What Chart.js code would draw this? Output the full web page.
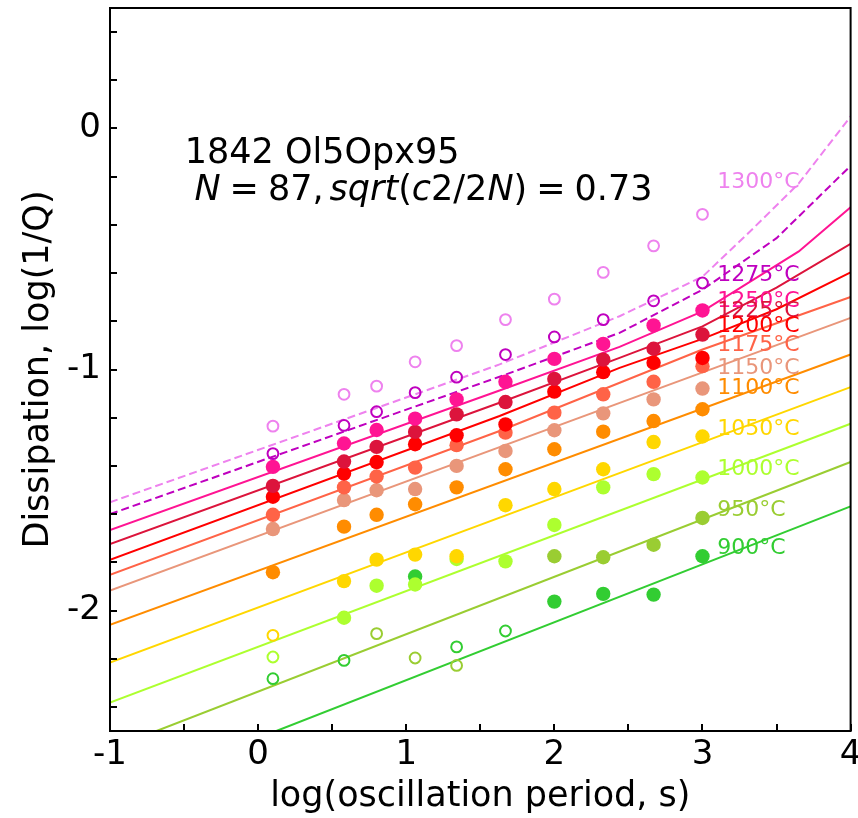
<!DOCTYPE html>
<html>
<head>
<meta charset="utf-8">
<script src="https://cdn.jsdelivr.net/npm/chart.js@4.4.1/dist/chart.umd.min.js"></script>
<style>
  html, body { margin: 0; padding: 0; background: #fff; }
  #wrap { width: 858px; height: 818px; }
</style>
</head>
<body>
<div id="wrap"><canvas id="qChart" width="858" height="818"></canvas></div>
<script>
// log10 of oscillation period (s) for the measured points
const periods = [0.10, 0.58, 0.80, 1.06, 1.34, 1.67, 2.00, 2.33, 2.67, 3.00];
const temps = [1300, 1275, 1250, 1225, 1200, 1175, 1150, 1100, 1050, 1000, 950, 900];
const colors = ['#ee82ee', '#bf00bf', '#ff1493', '#dc143c', '#ff0000', '#ff6347',
                '#e9967a', '#ff8c00', '#ffd700', '#adff2f', '#9acd32', '#32cd32'];

// tick labels
const xTickLabels = [-1, 0, 1, 2, 3, 4];
const yTickLabels = [0, -1, -2];

// measured log(1/Q), one value per period (null = no point)
const obs1300 = [-1.235, -1.103, -1.069, -0.968, -0.901, -0.793, -0.708, -0.597, -0.487, -0.356];
const obs1275 = [-1.349, -1.232, -1.175, -1.096, -1.032, -0.938, -0.865, -0.793, -0.715, -0.641];
const obs1250 = [-1.404, -1.307, -1.251, -1.204, -1.124, -1.051, -0.956, -0.894, -0.817, -0.755];
const obs1225 = [-1.483, -1.382, -1.321, -1.259, -1.186, -1.135, -1.039, -0.959, -0.914, -0.855];
const obs1200 = [-1.528, -1.432, -1.384, -1.310, -1.273, -1.228, -1.092, -1.011, -0.972, -0.952];
const obs1175 = [-1.603, -1.489, -1.444, -1.407, -1.314, -1.262, -1.179, -1.103, -1.051, -0.986];
const obs1150 = [-1.662, -1.542, -1.501, -1.496, -1.400, -1.338, -1.252, -1.182, -1.124, -1.079];
const obs1100 = [-1.841, -1.652, -1.603, -1.559, -1.489, -1.414, -1.331, -1.258, -1.214, -1.165];
const obs1050 = [-2.103, -1.878, -1.789, -1.768, -1.775, -1.563, -1.496, -1.414, -1.301, -1.278];
const obs1000 = [-2.193, -2.030, -1.897, -1.892, -1.786, -1.796, -1.645, -1.489, -1.434, -1.448];
const obs950  = [null, null, -2.096, -2.197, -2.228, null, -1.775, -1.779, -1.727, -1.616];
const obs900  = [-2.283, -2.207, null, -1.859, -2.151, -2.085, -1.963, -1.931, -1.934, -1.775];

// 1 = open (hollow) marker
const hollow1300 = [1, 1, 1, 1, 1, 1, 1, 1, 1, 1];
const hollow1275 = [1, 1, 1, 1, 1, 1, 1, 1, 1, 1];
const hollow1050 = [1, 0, 0, 0, 0, 0, 0, 0, 0, 0];
const hollow1000 = [1, 0, 0, 0, 0, 0, 0, 0, 0, 0];
const hollow950  = [0, 0, 1, 1, 1, 0, 0, 0, 0, 0];
const hollow900  = [1, 1, 0, 0, 1, 1, 0, 0, 0, 0];
const noHollow   = [0, 0, 0, 0, 0, 0, 0, 0, 0, 0];

// model curves [log period, log(1/Q)]
const fit1300 = [[-1, -1.551], [1.63, -0.979], [2.44, -0.779], [3.0, -0.615], [3.3, -0.44], [3.65, -0.228], [4, 0.05]];
const fit1275 = [[-1, -1.600], [1.63, -1.030], [2.44, -0.848], [3.0, -0.669], [3.5, -0.455], [4, -0.155]];
const fit1250 = [[-1, -1.666], [1.63, -1.087], [2.44, -0.906], [3.0, -0.759], [3.65, -0.510], [4, -0.327]];
const fit1225 = [[-1, -1.724], [1.63, -1.138], [2.44, -0.952], [3.0, -0.821], [3.5, -0.66], [4, -0.479]];
const fit1200 = [[-1, -1.790], [1.63, -1.193], [2.44, -0.993], [3.0, -0.873], [3.5, -0.75], [4, -0.597]];
const fit1175 = [[-1, -1.852], [1.63, -1.255], [3.0, -0.917], [4, -0.699]];
const fit1150 = [[-1, -1.917], [4, -0.786]];
const fit1100 = [[-1, -2.059], [4, -0.938]];
const fit1050 = [[-1, -2.216], [4, -1.073]];
const fit1000 = [[-1, -2.382], [4, -1.225]];
const fit950  = [[-0.686, -2.5], [4, -1.384]];
const fit900  = [[0.123, -2.5], [4, -1.568]];

// where the temperature tags sit
const tagX = 3.1;
const tagY = [-0.225, -0.607, -0.717, -0.759, -0.821, -0.901, -0.993, -1.080, -1.248, -1.414, -1.586, -1.742];

const obsAll = [obs1300, obs1275, obs1250, obs1225, obs1200, obs1175, obs1150, obs1100, obs1050, obs1000, obs950, obs900];
const hollowAll = [hollow1300, hollow1275, noHollow, noHollow, noHollow, noHollow, noHollow, noHollow, hollow1050, hollow1000, hollow950, hollow900];
const fitAll = [fit1300, fit1275, fit1250, fit1225, fit1200, fit1175, fit1150, fit1100, fit1050, fit1000, fit950, fit900];

const datasets = [];
temps.forEach(function(t, i) {
    const col = colors[i];
    const hol = hollowAll[i];
    const pts = [];
    periods.forEach(function(p, j) {
        if (obsAll[i][j] !== null) pts.push({ x: p, y: obsAll[i][j], open: hol[j] });
    });
    datasets.push({
        label: t + '°C',
        data: pts,
        showLine: false,
        order: i,
        pointRadius: pts.map(function(d) { return d.open ? 5.4 : 7.2; }),
        pointBorderWidth: pts.map(function(d) { return d.open ? 2 : 0; }),
        pointBorderColor: col,
        pointBackgroundColor: pts.map(function(d) { return d.open ? 'rgba(0,0,0,0)' : col; })
    });
    datasets.push({
        label: t + '°C fit',
        data: fitAll[i].map(function(d) { return { x: d[0], y: d[1] }; }),
        showLine: true,
        order: 100 + i,
        borderColor: col,
        borderWidth: 2,
        borderDash: i < 2 ? [8, 4] : [],
        pointRadius: 0,
        fill: false
    });
});

const frameAndText = {
    id: 'frameAndText',
    afterDraw: function(chart) {
        const ctx = chart.ctx;
        const a = chart.chartArea;
        const xs = chart.scales.x, ys = chart.scales.y;
        ctx.save();
        ctx.strokeStyle = '#000';
        ctx.lineWidth = 2;
        ctx.strokeRect(a.left, a.top, a.right - a.left, a.bottom - a.top);
        ctx.beginPath();
        for (let v = -1; v <= 4.001; v += 0.5) {
            const px = Math.round(xs.getPixelForValue(v));
            ctx.moveTo(px, a.bottom);
            ctx.lineTo(px, a.bottom - 7);
        }
        for (let k = -12; k <= 2; k++) {
            const py = Math.round(ys.getPixelForValue(k * 0.2));
            ctx.moveTo(a.left, py);
            ctx.lineTo(a.left + 7, py);
        }
        ctx.stroke();

        // tick labels
        ctx.fillStyle = '#000';
        ctx.font = '34px "DejaVu Sans"';
        ctx.textBaseline = 'middle';
        ctx.textAlign = 'center';
        xTickLabels.forEach(function(v) {
            ctx.fillText(String(v), xs.getPixelForValue(v), a.bottom + 24);
        });
        ctx.textAlign = 'right';
        yTickLabels.forEach(function(v) {
            ctx.fillText(String(v), a.left - 9, ys.getPixelForValue(v));
        });

        // temperature tags
        ctx.font = '22px "DejaVu Sans"';
        ctx.textAlign = 'left';
        temps.forEach(function(t, i) {
            ctx.fillStyle = colors[i];
            ctx.fillText(t + '°C', xs.getPixelForValue(tagX), ys.getPixelForValue(tagY[i]));
        });

        // sample name and fit statistic
        ctx.fillStyle = '#000';
        ctx.textBaseline = 'alphabetic';
        ctx.font = '35px "DejaVu Sans"';
        ctx.fillText('1842 Ol5Opx95', xs.getPixelForValue(-0.495), ys.getPixelForValue(-0.144));
        const up = '35px "DejaVu Sans"', it = 'oblique 35px "DejaVu Sans"';
        const segs = [['N', it, 9], ['=', up, 9], ['87,', up, 6], ['sqrt', it, 0], ['(', up, 0],
                      ['c', it, 0], ['2/2', up, 0], ['N', it, 0], [')', up, 9], ['=', up, 9], ['0.73', up, 0]];
        let cx = xs.getPixelForValue(-0.43);
        const by = ys.getPixelForValue(-0.297);
        segs.forEach(function(s) {
            ctx.font = s[1];
            ctx.fillText(s[0], cx, by);
            cx += ctx.measureText(s[0]).width + s[2];
        });
        ctx.restore();
    }
};

const ctx = document.getElementById('qChart').getContext('2d');
new Chart(ctx, {
    type: 'scatter',
    data: { datasets: datasets },
    options: {
        responsive: false,
        animation: false,
        devicePixelRatio: 1,
        layout: { padding: { top: 8, right: 6, left: 0, bottom: 0 } },
        plugins: { legend: { display: false }, tooltip: { enabled: false } },
        scales: {
            x: {
                type: 'linear', min: -1, max: 4,
                grid: { display: false, drawTicks: false },
                border: { display: false },
                ticks: { display: false },
                title: {
                    display: true, text: 'log(oscillation period, s)', color: '#000',
                    font: { family: 'DejaVu Sans', size: 35 }, padding: { top: 0, bottom: 0 }
                },
                afterFit: function(s) { s.height = 87; }
            },
            y: {
                type: 'linear', min: -2.5, max: 0.5,
                grid: { display: false, drawTicks: false },
                border: { display: false },
                ticks: { display: false },
                title: {
                    display: true, text: 'Dissipation, log(1/Q)', color: '#000',
                    font: { family: 'DejaVu Sans', size: 35 }, padding: { top: 18, bottom: 0 }
                },
                afterFit: function(s) { s.width = 110; }
            }
        }
    },
    plugins: [frameAndText]
});
</script>
</body>
</html>
